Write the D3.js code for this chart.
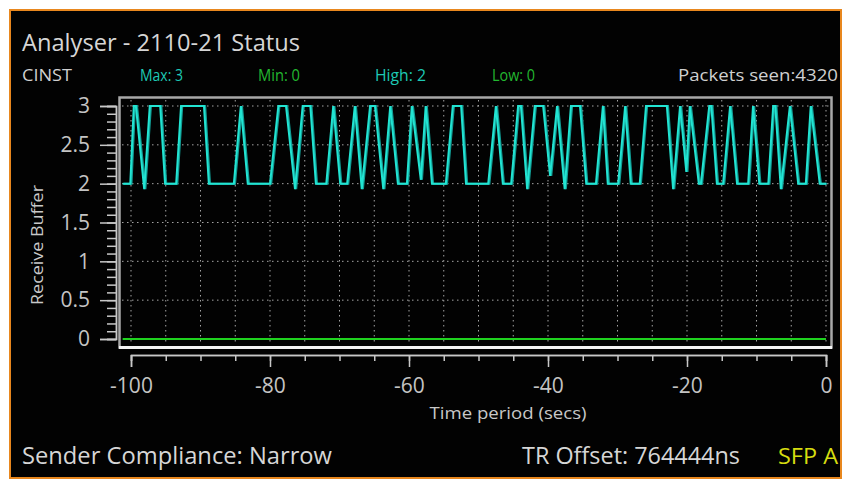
<!DOCTYPE html>
<html>
<head>
<meta charset="utf-8">
<script src="https://cdn.jsdelivr.net/npm/d3@7"></script>
<style>
  html, body { margin: 0; padding: 0; background: #ffffff; }
  svg { display: block; }
  text { font-family: "Open Sans", "DejaVu Sans", sans-serif; }
</style>
</head>
<body>
<svg id="chart" width="845" height="484"></svg>
<script>
// Header / footer texts
const titleText = "Analyser - 2110-21 Status";
const statLabels = ["CINST", "Max: 3", "Min: 0", "High: 2", "Low: 0"];
const statKinds = ["plain", "high", "low", "high", "low"];
const packetsText = "Packets seen:4320";
const complianceText = "Sender Compliance: Narrow";
const offsetText = "TR Offset: 764444ns";
const portText = "SFP A";

// Axis ticks
const xTicks = [-100, -80, -60, -40, -20, 0];
const xTickLabels = ["-100", "-80", "-60", "-40", "-20", "0"];
const xGridTicks = [-100, -95, -90, -85, -80, -75, -70, -65, -60, -55, -50, -45, -40, -35, -30, -25, -20, -15, -10, -5, 0];
const yTicks = [0, 0.5, 1, 1.5, 2, 2.5, 3];
const yTickLabels = ["0", "0.5", "1", "1.5", "2", "2.5", "3"];

// Receive buffer trace: corner points [seconds, value]
const bufferTrace = [
  [-101.2, 2], [-100.1, 2], [-99.6, 3], [-99.3, 3], [-98.1, 1.93], [-97.3, 3], [-95.8, 3], [-95.1, 2],
  [-93.5, 2], [-92.8, 3], [-89.5, 3], [-88.8, 2], [-85.2, 2], [-84.2, 3], [-83.2, 2], [-80.0, 2],
  [-78.8, 3], [-77.7, 3], [-76.4, 1.93], [-75.3, 3], [-74.2, 3], [-73.4, 2], [-71.9, 2], [-70.9, 3],
  [-69.9, 2], [-68.9, 2], [-67.8, 3], [-66.8, 1.93], [-65.6, 3], [-64.9, 3], [-63.7, 1.93], [-62.7, 3],
  [-61.6, 2], [-60.3, 2], [-59.6, 3], [-58.3, 2.05], [-57.6, 3], [-56.7, 2], [-54.7, 2], [-53.7, 3],
  [-52.5, 3], [-51.8, 2], [-48.6, 2], [-47.5, 3], [-46.5, 2], [-45.3, 2], [-44.3, 3], [-43.9, 3],
  [-43.0, 1.93], [-41.9, 3], [-40.7, 3], [-39.7, 2.1], [-38.7, 3], [-37.6, 1.93], [-36.7, 3], [-35.4, 3],
  [-34.5, 2], [-33.1, 2], [-32.1, 3], [-31.4, 2], [-29.9, 2], [-28.9, 3], [-28.1, 2], [-26.8, 2],
  [-25.9, 3], [-22.9, 3], [-22.0, 1.93], [-21.0, 3], [-20.1, 2.15], [-19.6, 3], [-18.3, 2], [-18.0, 2],
  [-16.8, 3], [-16.5, 3], [-15.7, 2], [-14.8, 2], [-13.8, 3], [-12.8, 2], [-11.2, 2], [-10.5, 3],
  [-9.6, 2], [-8.3, 2], [-7.6, 3], [-7.3, 3], [-6.5, 1.93], [-5.2, 3], [-4.0, 2], [-2.9, 2],
  [-2.2, 3], [-0.9, 2], [0, 2]
];
// Low-water trace
const lowTrace = [[-101.2, 0], [0, 0]];

const svg = d3.select("#chart");

// Adds a text stretched to a fixed width
function label(parent, xPos, yPos, str, size, color, width, anchor) {
  return parent.append("text").attr("x", xPos).attr("y", yPos).attr("font-size", size)
    .attr("fill", color).attr("text-anchor", anchor || "start")
    .attr("textLength", width).attr("lengthAdjust", "spacingAndGlyphs").text(str);
}

// Panel background and border
svg.append("rect").attr("x", 10).attr("y", 10).attr("width", 831).attr("height", 468)
  .attr("fill", "#020202").attr("stroke", "#e8871e").attr("stroke-width", 2);

const x = d3.scaleLinear().domain([-100, 0]).range([131, 826]);
const y = d3.scaleLinear().domain([0, 3]).range([339, 106]);

// Header
label(svg, 22, 51, titleText, 24, "#d6d6d6", 278);
const statX = [22, 140, 258, 375, 492];
const statW = [50, 43, 42, 51, 43];
const statColor = { plain: "#d0d0d0", high: "#1ec9b5", low: "#22b830" };
statLabels.forEach((s, i) => label(svg, statX[i], 81, s, 15.5, statColor[statKinds[i]], statW[i]));
label(svg, 838, 81, packetsText, 15.5, "#d0d0d0", 160, "end");

// Grid
const grid = svg.append("g").attr("stroke", "#a4a4a4").attr("stroke-width", 1).attr("stroke-dasharray", "1.5,3.5");
grid.selectAll("line.v").data(xGridTicks).join("line").attr("class", "v")
  .attr("x1", d => x(d)).attr("x2", d => x(d)).attr("y1", 100).attr("y2", 345);
grid.selectAll("line.h").data(yTicks.filter(d => d > 0)).join("line").attr("class", "h")
  .attr("x1", 122).attr("x2", 830).attr("y1", d => y(d)).attr("y2", d => y(d));

// Plot frame
svg.append("rect").attr("x", 119.5).attr("y", 97.5).attr("width", 712).attr("height", 250)
  .attr("fill", "none").attr("stroke", "#a8a8a8").attr("stroke-width", 2.5);
svg.append("line").attr("x1", 119).attr("x2", 832).attr("y1", 347.5).attr("y2", 347.5)
  .attr("stroke", "#f4f4f4").attr("stroke-width", 3);

// Traces
const line = d3.line().x(d => x(d[0])).y(d => y(d[1]));
svg.append("path").datum(lowTrace).attr("d", line).attr("fill", "none")
  .attr("stroke", "#1fd21f").attr("stroke-width", 2.2);
svg.append("path").datum(bufferTrace).attr("d", line).attr("fill", "none")
  .attr("stroke", "#129c94").attr("stroke-width", 2).attr("transform", "translate(1.2,0)");
svg.append("path").datum(bufferTrace).attr("d", line).attr("fill", "none")
  .attr("stroke", "#22e4d2").attr("stroke-width", 2);

// Y axis
const yAxis = d3.axisLeft(y).tickValues(yTicks).tickSize(16).tickPadding(10)
  .tickFormat((d, i) => yTickLabels[i]);
svg.append("g").attr("class", "yaxis").attr("transform", "translate(116,0)").call(yAxis);
const yMinor = d3.axisLeft(y).tickValues(d3.range(0, 31).map(i => i / 10)).tickSize(9).tickFormat("");
svg.append("g").attr("transform", "translate(116,0)").call(yMinor);

// X axis
const xAxis = d3.axisBottom(x).tickValues(xTicks).tickSize(12).tickPadding(11)
  .tickFormat((d, i) => xTickLabels[i]);
svg.append("g").attr("class", "xaxis").attr("transform", "translate(0,355)").call(xAxis);
const xMinor = d3.axisBottom(x).tickValues(xGridTicks).tickSize(6).tickFormat("");
svg.append("g").attr("transform", "translate(0,355)").call(xMinor);

svg.selectAll(".domain").attr("stroke", "#c8c8c8").attr("stroke-width", 1.5);
svg.selectAll(".tick line").attr("stroke", "#c8c8c8").attr("stroke-width", 1.5);
svg.selectAll(".tick text").attr("fill", "#c4c4c4").attr("font-size", 21)
  .attr("font-family", "'Open Sans', sans-serif");

// Axis titles
label(svg, 508, 419, "Time period (secs)", 16, "#c8c8c8", 157, "middle");
label(svg.append("g").attr("transform", "translate(43,245) rotate(-90)"), 0, 0, "Receive Buffer", 16, "#c8c8c8", 120, "middle");

// Footer
label(svg, 22, 464, complianceText, 23, "#d6d6d6", 310);
label(svg, 740, 464, offsetText, 23, "#d6d6d6", 218, "end");
label(svg, 838, 464, portText, 21, "#d6dc10", 60, "end");
</script>
</body>
</html>
